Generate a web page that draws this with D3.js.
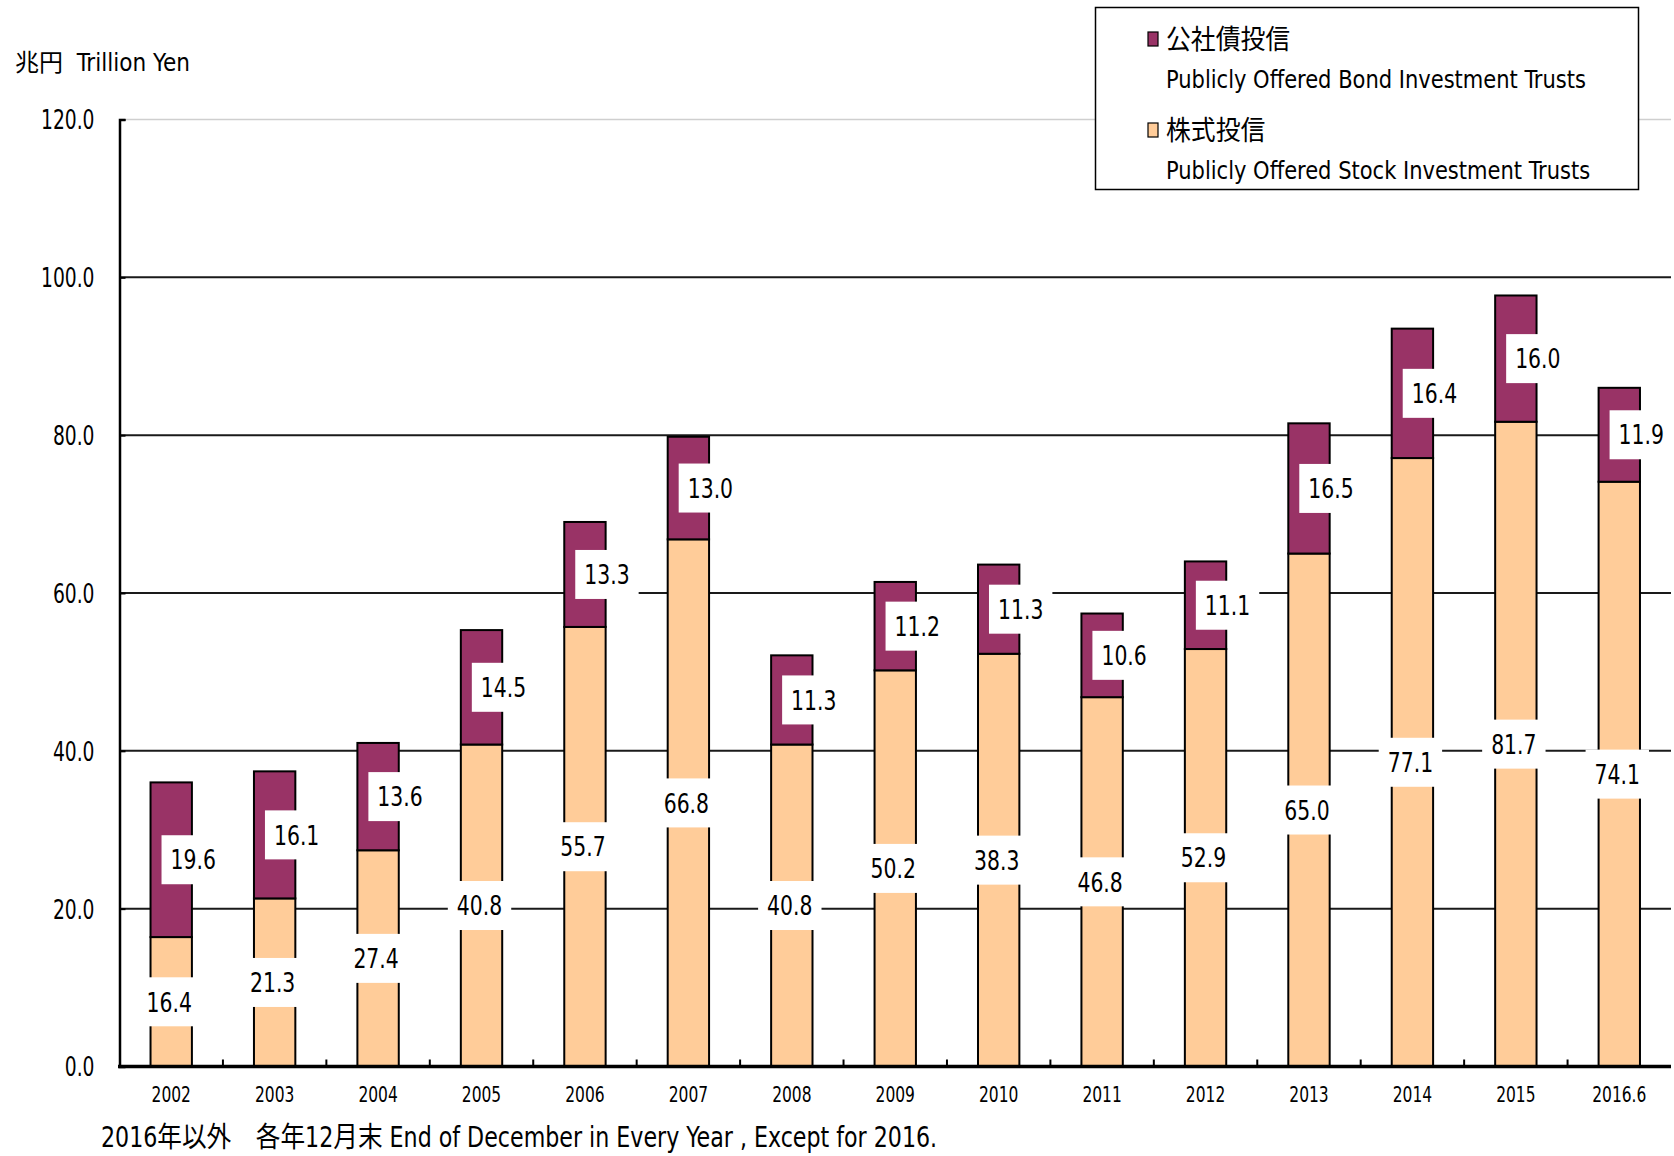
<!DOCTYPE html>
<html>
<head>
<meta charset="utf-8">
<script src="https://cdn.jsdelivr.net/npm/d3@7"></script>
<style>
  body { margin: 0; background: #fff; }
  text { font-family: "Liberation Sans Narrow", "DejaVu Sans Condensed", "Noto Sans CJK JP", sans-serif; fill: #000; }
</style>
</head>
<body>
<script>
// dati (兆円)
var years = ["2002", "2003", "2004", "2005", "2006", "2007", "2008", "2009", "2010", "2011", "2012", "2013", "2014", "2015", "2016.6"];
var stockValues = [16.4, 21.3, 27.4, 40.8, 55.7, 66.8, 40.8, 50.2, 52.3, 46.8, 52.9, 65.0, 77.1, 81.7, 74.1];
var bondValues = [19.6, 16.1, 13.6, 14.5, 13.3, 13.0, 11.3, 11.2, 11.3, 10.6, 11.1, 16.5, 16.4, 16.0, 11.9];
// etichette come stampate nel grafico (2010 riporta 38.3)
var stockLabels = ["16.4", "21.3", "27.4", "40.8", "55.7", "66.8", "40.8", "50.2", "38.3", "46.8", "52.9", "65.0", "77.1", "81.7", "74.1"];
var bondLabels = ["19.6", "16.1", "13.6", "14.5", "13.3", "13.0", "11.3", "11.2", "11.3", "10.6", "11.1", "16.5", "16.4", "16.0", "11.9"];
var yTicks = [0, 20, 40, 60, 80, 100, 120];
var seriesNames = [
  { jp: "公社債投信", en: "Publicly Offered Bond Investment Trusts", key: "bond" },
  { jp: "株式投信", en: "Publicly Offered Stock Investment Trusts", key: "stock" }
];

var colors = { stock: "#ffcc99", bond: "#993366" };

var width = 1674, height = 1156;
var svg = d3.select("body").append("svg")
  .attr("width", width)
  .attr("height", height);

// stringe orizzontalmente un testo attorno alla sua x (font stretto)
function stringi(t, sx) {
  var x0 = +t.attr("x") || 0;
  t.attr("transform", "translate(" + x0 + ",0) scale(" + sx + ",1) translate(" + (-x0) + ",0)");
}

var rows = years.map(function (y, i) {
  return { year: y, stock: stockValues[i], bond: bondValues[i], stockLabel: stockLabels[i], bondLabel: bondLabels[i] };
});

var x = d3.scaleBand()
  .domain(years)
  .range([119.5, 1671])
  .paddingInner(0.6)
  .paddingOuter(0.3);

var y = d3.scaleLinear()
  .domain([0, 120])
  .range([1066.5, 119.5]);

// griglia
svg.append("g")
  .selectAll("line")
  .data(yTicks.filter(function (d) { return d > 0; }))
  .enter()
  .append("line")
  .attr("x1", 119.5)
  .attr("x2", 1671)
  .attr("y1", function (d) { return y(d); })
  .attr("y2", function (d) { return y(d); })
  .attr("stroke", function (d) { return d === 120 ? "#cfcfcf" : "#1a1a1a"; })
  .attr("stroke-width", function (d) { return d === 120 ? 1.5 : 2; });

// barre impilate
var stack = d3.stack().keys(["stock", "bond"]);
var layers = stack(rows);

svg.append("g")
  .selectAll("g")
  .data(layers)
  .enter()
  .append("g")
  .attr("fill", function (d) { return colors[d.key]; })
  .selectAll("rect")
  .data(function (d) { return d; })
  .enter()
  .append("rect")
  .attr("x", function (d) { return x(d.data.year); })
  .attr("width", x.bandwidth())
  .attr("y", function (d) { return y(d[1]); })
  .attr("height", function (d) { return y(d[0]) - y(d[1]); })
  .attr("stroke", "#000")
  .attr("stroke-width", 2);

// asse y
var yAxis = svg.append("g")
  .attr("transform", "translate(119.5,0)")
  .call(d3.axisLeft(y).tickValues(yTicks).tickFormat(d3.format(".1f")).tickSize(-6).tickPadding(25));
yAxis.select(".domain").attr("stroke", "#000").attr("stroke-width", 2.5);
yAxis.selectAll(".tick line").attr("stroke", "#000").attr("stroke-width", 2);
yAxis.selectAll("text")
  .style("font-size", "26px")
  .attr("dy", "0.36em")
  .each(function () { stringi(d3.select(this), 0.8); });

// asse x
var xAxis = svg.append("g")
  .attr("transform", "translate(0,1066.5)")
  .call(d3.axisBottom(x).tickSize(0).tickPadding(21));
xAxis.select(".domain").remove();
xAxis.selectAll("text")
  .style("font-size", "21px")
  .attr("dy", "0.71em")
  .each(function () { stringi(d3.select(this), 0.82); });

svg.append("g")
  .selectAll("line")
  .data(years.slice(1))
  .enter()
  .append("line")
  .attr("x1", function (d) { return x(d) + x.bandwidth() / 2 - x.step() / 2; })
  .attr("x2", function (d) { return x(d) + x.bandwidth() / 2 - x.step() / 2; })
  .attr("y1", y(0))
  .attr("y2", y(0) - 7)
  .attr("stroke", "#000")
  .attr("stroke-width", 2);

svg.append("line")
  .attr("x1", 118)
  .attr("x2", 1671)
  .attr("y1", y(0))
  .attr("y2", y(0))
  .attr("stroke", "#000")
  .attr("stroke-width", 3.5);

// etichette dei valori con fondo bianco
function etichetta(cx, cy, testo) {
  var g = svg.append("g");
  var box = g.append("rect").attr("fill", "#fff");
  var t = g.append("text")
    .attr("x", cx)
    .attr("y", cy)
    .attr("text-anchor", "middle")
    .attr("dy", "0.36em")
    .style("font-size", "27px")
    .text(testo);
  stringi(t, 0.84);
  var w = t.node().getComputedTextLength() * 0.84;
  box.attr("x", cx - w / 2 - 9)
    .attr("y", cy - 24.5)
    .attr("width", w + 18)
    .attr("height", 49);
}

rows.forEach(function (d) {
  var cx = x(d.year) + x.bandwidth() / 2;
  etichetta(cx - 2, y(d.stock / 2), d.stockLabel);
  etichetta(cx + 22, y(d.stock + d.bond / 2), d.bondLabel);
});

// legenda
var legend = svg.append("g");
legend.append("rect")
  .attr("x", 1095.5)
  .attr("y", 7.5)
  .attr("width", 543)
  .attr("height", 182)
  .attr("fill", "#fff")
  .attr("stroke", "#000")
  .attr("stroke-width", 1.5);

seriesNames.forEach(function (s, i) {
  var top = 39 + i * 91;
  legend.append("rect")
    .attr("x", 1148)
    .attr("y", top - 7)
    .attr("width", 10)
    .attr("height", 14)
    .attr("fill", colors[s.key])
    .attr("stroke", "#000")
    .attr("stroke-width", 1.2);
  var jp = legend.append("text")
    .attr("x", 1166)
    .attr("y", top)
    .attr("dy", "0.36em")
    .style("font-size", "27px")
    .text(s.jp);
  stringi(jp, 0.92);
  var en = legend.append("text")
    .attr("x", 1166)
    .attr("y", top + 40)
    .attr("dy", "0.36em")
    .style("font-size", "25px")
    .text(s.en);
  stringi(en, 0.935);
});

// titolo asse e nota
svg.append("text")
  .attr("x", 15)
  .attr("y", 62)
  .attr("dy", "0.36em")
  .attr("xml:space", "preserve")
  .style("font-size", "24px")
  .text("兆円  Trillion Yen");

var nota = svg.append("text")
  .attr("x", 101)
  .attr("y", 1137)
  .attr("dy", "0.36em")
  .style("font-size", "28px")
  .text("2016年以外　各年12月末 End of December in Every Year , Except for 2016.");
stringi(nota, 0.88);
</script>
</body>
</html>
